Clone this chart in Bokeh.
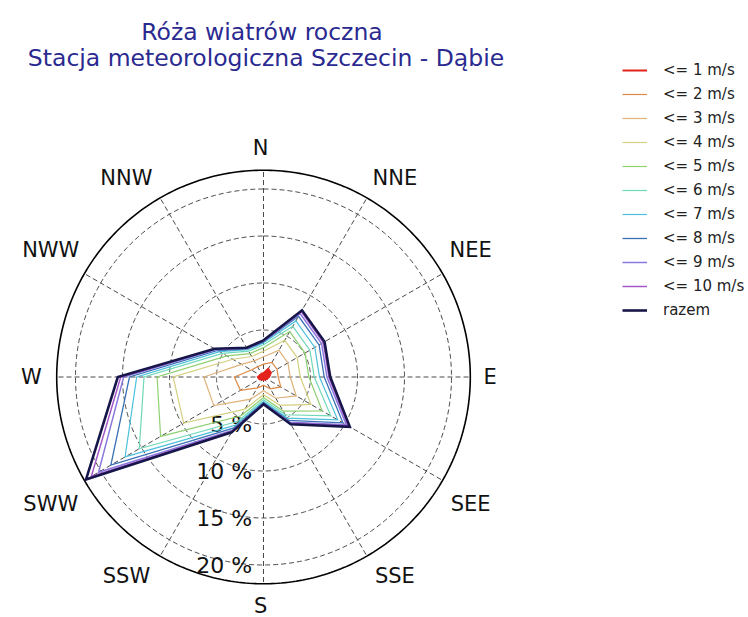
import numpy as np
from bokeh.plotting import figure
from bokeh.models import Range1d, Legend, LegendItem, Label
from bokeh.core.properties import value
from bokeh.embed import file_html
from bokeh.resources import INLINE

# ---------------- data ----------------
title_1 = "Róża wiatrów roczna"
title_2 = "Stacja meteorologiczna Szczecin - Dąbie"

directions = ["N", "NNE", "NEE", "E", "SEE", "SSE", "S", "SSW", "SWW", "W", "NWW", "NNW"]
dir_angles = [0, 30, 60, 90, 120, 150, 180, 210, 240, 270, 300, 330]

# cumulative frequency [%] of wind up to a given speed, per direction
le_1 = [0.40, 1.00, 0.90, 0.60, 0.40, 0.30, 0.30, 0.30, 0.50, 0.60, 0.40, 0.40]
le_2 = [1.37, 1.80, 1.65, 1.56, 2.12, 1.45, 0.87, 1.36, 2.83, 3.10, 1.50, 1.26]
le_3 = [2.15, 3.28, 3.00, 2.84, 4.03, 2.61, 1.45, 2.72, 6.10, 6.36, 2.70, 1.98]
le_4 = [2.73, 4.51, 4.13, 3.91, 5.83, 3.48, 1.89, 3.94, 9.81, 9.61, 3.78, 2.52]
le_5 = [3.12, 5.58, 5.10, 4.83, 7.21, 4.18, 2.18, 4.76, 12.64, 11.32, 4.50, 2.88]
le_6 = [3.43, 6.23, 5.70, 5.40, 8.27, 4.64, 2.41, 5.44, 15.26, 12.71, 5.04, 3.17]
le_7 = [3.63, 6.89, 6.30, 5.96, 9.12, 5.05, 2.61, 5.92, 17.00, 13.49, 5.40, 3.35]
le_8 = [3.74, 7.46, 6.83, 6.46, 9.75, 5.34, 2.73, 6.26, 18.75, 14.26, 5.64, 3.46]
le_9 = [3.82, 7.79, 7.13, 6.75, 10.18, 5.57, 2.81, 6.53, 20.27, 14.88, 5.82, 3.53]
le_10 = [3.86, 8.04, 7.35, 6.96, 10.39, 5.68, 2.87, 6.66, 21.15, 15.19, 5.94, 3.56]
razem = [3.90, 8.20, 7.50, 7.10, 10.60, 5.80, 2.90, 6.80, 21.80, 15.50, 6.00, 3.60]

series_labels = ["<= 1 m/s", "<= 2 m/s", "<= 3 m/s", "<= 4 m/s", "<= 5 m/s", "<= 6 m/s",
                 "<= 7 m/s", "<= 8 m/s", "<= 9 m/s", "<= 10 m/s", "razem"]
series_values = [le_1, le_2, le_3, le_4, le_5, le_6, le_7, le_8, le_9, le_10, razem]

ring_radii = [5, 10, 15, 20]
ring_labels = ["5 %", "10 %", "15 %", "20 %"]
r_max = 22

# ---------------- styles ----------------
colors = ["#e3231c", "#dc8a45", "#dfb27a", "#d5cf80", "#8fd070", "#6fd8b8",
          "#4cc0dc", "#3a70b5", "#8a78dc", "#a458c8", "#16164a"]
widths = [2, 1.2, 1.2, 1.2, 1.2, 1.2, 1.2, 1.3, 1.5, 1.5, 2.6]
FONT = "DejaVu Sans"

S = 9.4            # pixels per percent
W, H = 748, 617
cx, cy = 263, 376.5

p = figure(width=W, height=H,
           x_range=Range1d(-cx / S, (W - cx) / S),
           y_range=Range1d(-(H - cy) / S, cy / S),
           output_backend="svg", toolbar_location=None,
           x_axis_type=None, y_axis_type=None, min_border=0)
p.outline_line_color = None
p.background_fill_color = "white"

th = np.radians(dir_angles)
sn, cs = np.sin(th), np.cos(th)

# spokes
p.segment(x0=0, y0=0, x1=r_max * sn, y1=r_max * cs,
          line_color="#4a4a4a", line_width=1, line_dash="5 3")

# dashed rings
t = np.linspace(0, 2 * np.pi, 361)
p.multi_line(xs=[list(r * np.sin(t)) for r in ring_radii],
             ys=[list(r * np.cos(t)) for r in ring_radii],
             line_color="#4a4a4a", line_width=1, line_dash="5 3")

# outer circle
p.line(r_max * np.sin(t), r_max * np.cos(t), line_color="black", line_width=1.6)

# ring labels
p.text(x=[-1.2] * len(ring_radii), y=[-r for r in ring_radii], text=ring_labels,
       text_align="right", text_baseline="middle", text_font=value(FONT),
       text_font_size="22px", text_color="#111111")

# direction labels
r_lab = 24.4
lx = r_lab * sn + 2.4 * np.sign(np.round(sn, 6)) * np.abs(cs) - 0.3
ly = r_lab * cs + 1.3 * np.sign(np.round(cs, 6)) * (np.abs(np.abs(cs) - 0.5) < 0.01)
p.text(x=lx, y=ly, text=directions, text_align="center", text_baseline="middle",
       text_font=value(FONT), text_font_size="21px", text_color="#111111")

# wind rose contours
items = []
for i, (lab, vals) in enumerate(zip(series_labels, series_values)):
    v = np.array(vals)
    xs = list(v * sn) + [v[0] * sn[0]]
    ys = list(v * cs) + [v[0] * cs[0]]
    if i == 0:
        p.patch(xs, ys, fill_color=colors[i], line_color=colors[i], line_width=1)
    r = p.line(xs, ys, line_color=colors[i], line_width=widths[i], line_join="miter")
    items.append(LegendItem(label=lab, renderers=[r]))

legend = Legend(items=items, location=(622, 295), orientation="vertical",
                glyph_width=25, glyph_height=24, label_height=24, spacing=0,
                padding=0, margin=0, label_standoff=16,
                border_line_color=None, background_fill_alpha=0,
                label_text_font=FONT, label_text_font_size="15px",
                label_text_color="#222222")
p.add_layout(legend)

# titles
p.add_layout(Label(x=261.5, y=H - 31, x_units="screen", y_units="screen", text=title_1,
                   text_align="center", text_baseline="alphabetic",
                   text_font=FONT, text_font_size="23.5px", text_color="#2a2a90"))
p.add_layout(Label(x=265.5, y=H - 57, x_units="screen", y_units="screen", text=title_2,
                   text_align="center", text_baseline="alphabetic",
                   text_font=FONT, text_font_size="23.5px", text_color="#2a2a90"))

open("out.html", "w").write(file_html(p, INLINE))
